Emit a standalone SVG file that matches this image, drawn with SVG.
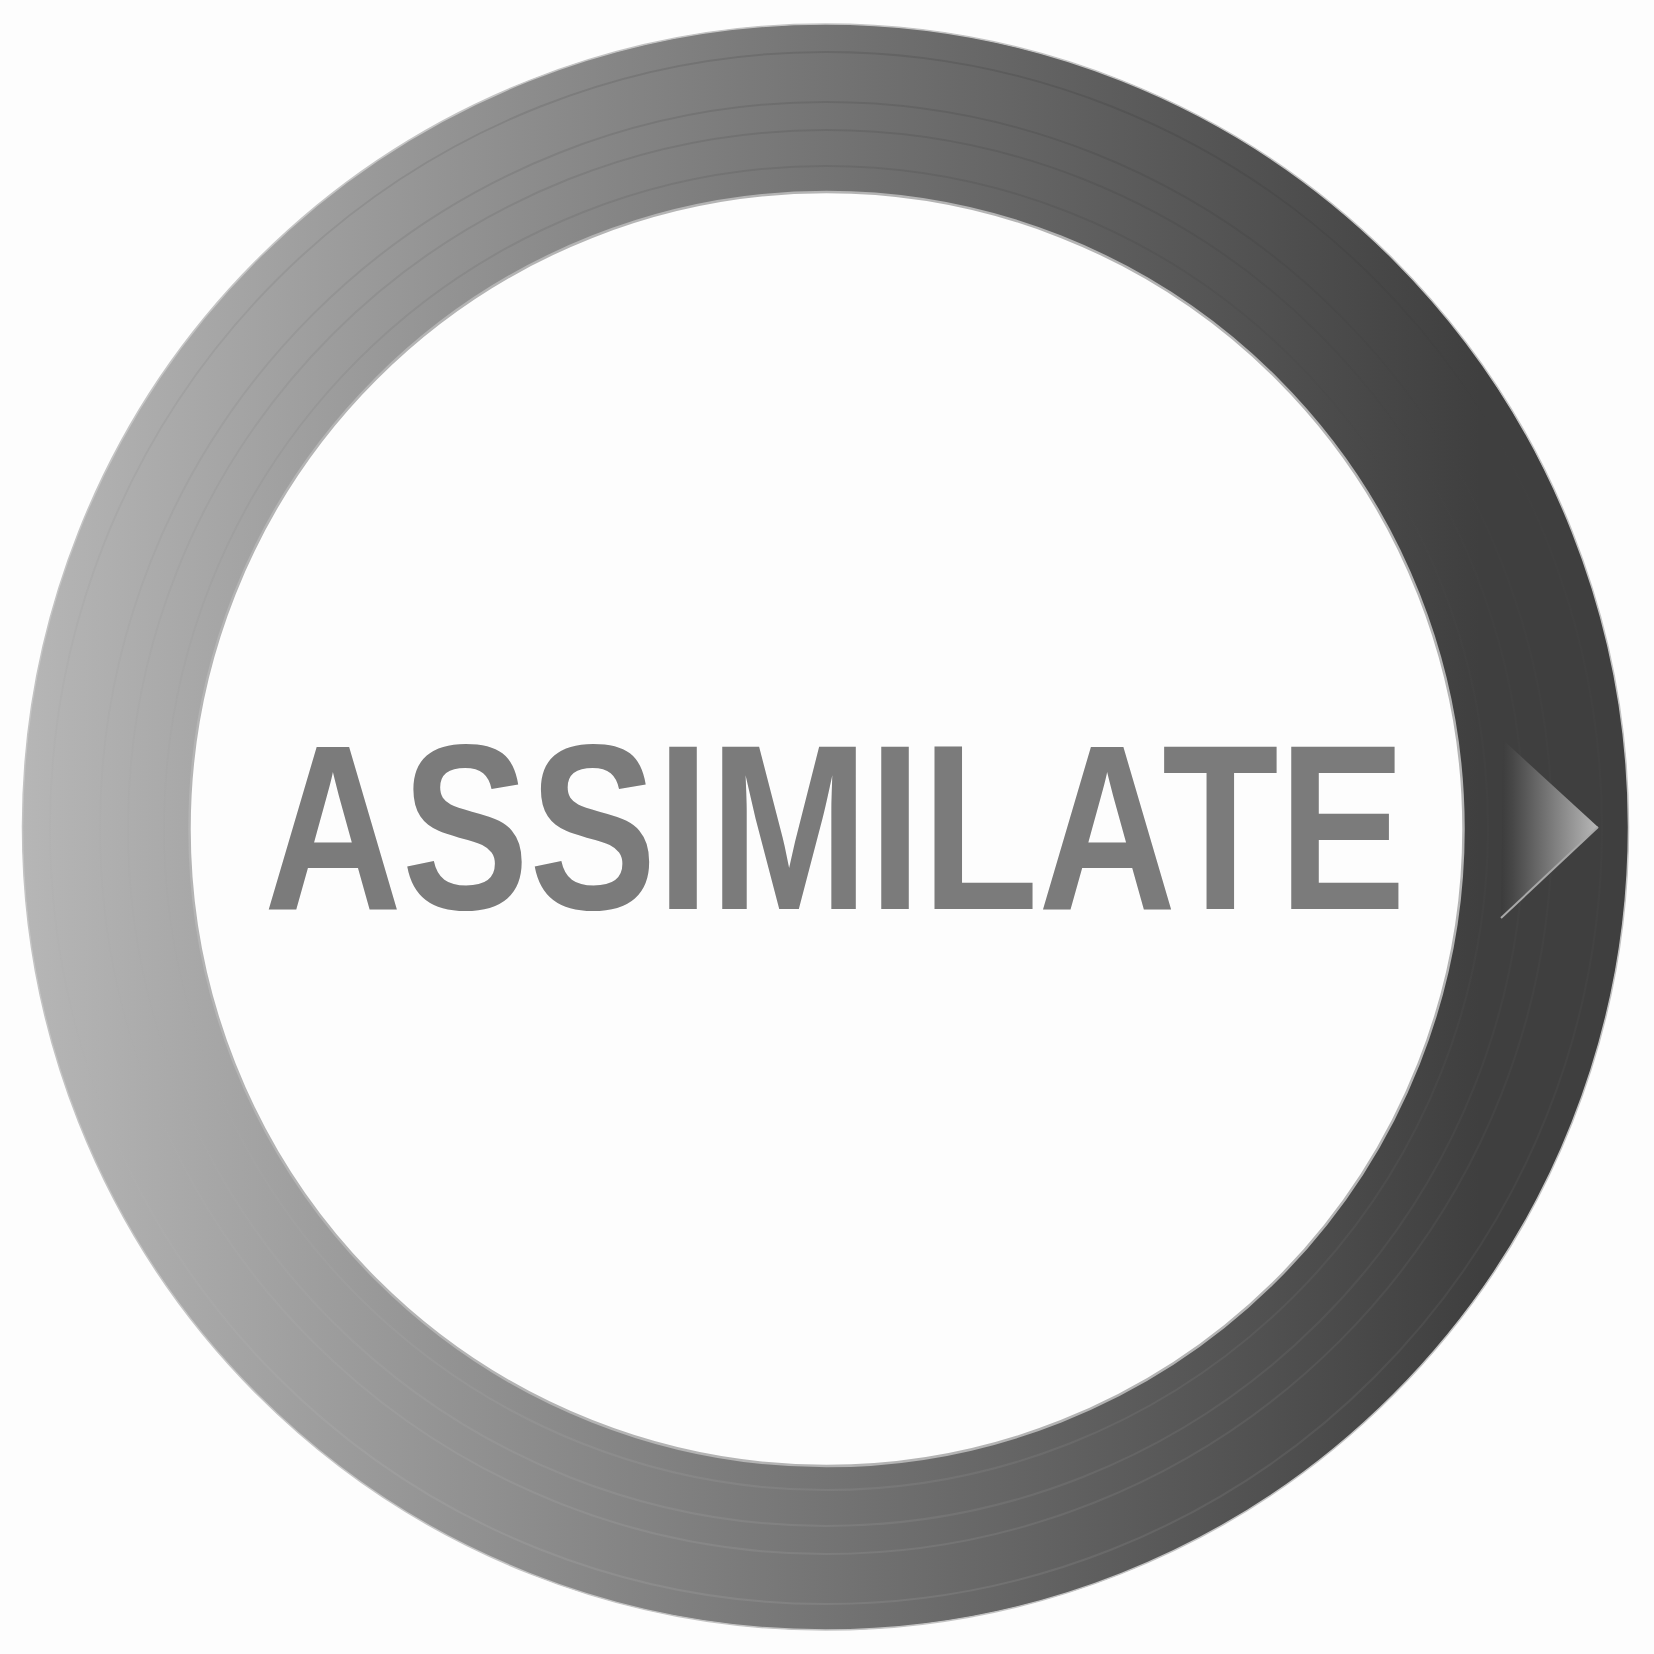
<svg xmlns="http://www.w3.org/2000/svg" width="1654" height="1654" viewBox="0 0 1654 1654">
  <defs>
    <linearGradient id="ringGrad" gradientUnits="userSpaceOnUse" x1="23" y1="0" x2="1480" y2="0">
      <stop offset="0" stop-color="#b6b6b6"/>
      <stop offset="0.5" stop-color="#7a7a7a"/>
      <stop offset="1" stop-color="#3f3f3f"/>
    </linearGradient>
    <linearGradient id="lineGrad" gradientUnits="userSpaceOnUse" x1="0" y1="52" x2="0" y2="1604">
      <stop offset="0" stop-color="#000000" stop-opacity="0.1"/>
      <stop offset="0.5" stop-color="#808080" stop-opacity="0.03"/>
      <stop offset="1" stop-color="#ffffff" stop-opacity="0.08"/>
    </linearGradient>
    <linearGradient id="triGrad" gradientUnits="userSpaceOnUse" x1="1501" y1="0" x2="1598" y2="0">
      <stop offset="0" stop-color="#3c3c3c"/>
      <stop offset="0.12" stop-color="#474747"/>
      <stop offset="1" stop-color="#b8b8b8"/>
    </linearGradient>
    <style>
      .ring-line { fill: none; stroke: url(#lineGrad); stroke-width: 2; }
      .label { font-family: "Liberation Sans", Arial, sans-serif; font-weight: bold; fill: #7b7b7b; }
    </style>
  </defs>
  <rect x="0" y="0" width="1654" height="1654" fill="#fdfdfd"/>

  <g id="ring">
    <path d="M 22.5 827 A 803 803 0 1 0 1628.5 827 A 803 803 0 1 0 22.5 827 Z M 189.5 829 A 637 637 0 1 1 1463.5 829 A 637 637 0 1 1 189.5 829 Z"
          fill="url(#ringGrad)" fill-rule="evenodd"/>
    <circle cx="825.5" cy="827" r="803" fill="none" stroke="#c4c4c4" stroke-width="1.5"/>
    <circle cx="826.5" cy="829" r="637" fill="none" stroke="#b4b4b4" stroke-width="2.5"/>
    <circle class="ring-line" cx="826" cy="828" r="776"/>
    <circle class="ring-line" cx="826" cy="828" r="726"/>
    <circle class="ring-line" cx="826" cy="828" r="698"/>
    <circle class="ring-line" cx="826" cy="828" r="662"/>
  </g>

  <g id="arrow">
    <polygon points="1503,740 1598,827 1501,918" fill="url(#triGrad)"/>
    <line x1="1598" y1="827" x2="1501" y2="918" stroke="#a8a8a8" stroke-width="2"/>
  </g>

  <g id="label">
    <text class="label" transform="translate(264,909) scale(0.809,1)" x="0" y="0" font-size="236">ASSIMILATE</text>
  </g>
</svg>
